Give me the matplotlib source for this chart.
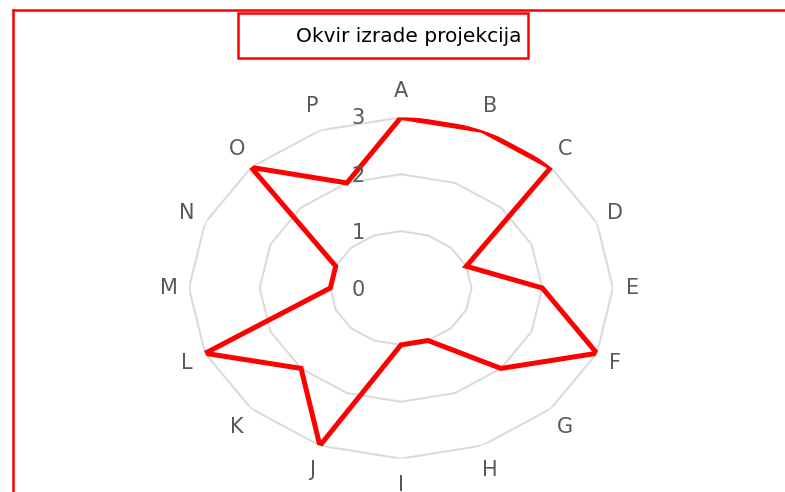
import matplotlib.pyplot as plt
import numpy as np
from matplotlib.patches import Rectangle
from matplotlib.lines import Line2D

# Дані
categories = ['A', 'B', 'C', 'D', 'E', 'F', 'G', 'H',
              'I', 'J', 'K', 'L', 'M', 'N', 'O', 'P']
values = [3, 3, 3, 1, 2, 3, 2, 1, 1, 3, 2, 3, 1, 1, 3, 2]
levels = [0, 1, 2, 3]
title = 'Okvir izrade projekcija'

W, H = 785, 492
fig = plt.figure(figsize=(W / 100, H / 100), dpi=100)
fig.patch.set_facecolor('white')

# Рамка (ліва та верхня червоні лінії)
fig.add_artist(Line2D([13 / W, 13 / W], [0, 1 - 10 / H], color='red', lw=1.8))
fig.add_artist(Line2D([13 / W, 1], [1 - 10 / H, 1 - 10 / H], color='red', lw=1.8))

# Полярна система, розтягнута по горизонталі
ax = fig.add_axes([189 / W, 33.4 / H, 424 / W, 341.2 / H], projection='polar')
ax.set_aspect('auto')
ax.set_theta_zero_location('N')
ax.set_theta_direction(-1)
ax.set_ylim(0, 3)
ax.grid(False)
ax.spines['polar'].set_visible(False)
ax.set_xticks([])
ax.set_yticks([])
ax.patch.set_alpha(0)

n = len(categories)
theta = np.arange(n) * 2 * np.pi / n
theta_closed = np.append(theta, theta[0])

# Сітка у вигляді багатокутників
for lv in levels[1:]:
    ax.plot(theta_closed, [lv] * (n + 1), color='#d9d9d9', lw=1.4, zorder=1)

# Серія даних
vals_closed = values + [values[0]]
ax.plot(theta_closed, vals_closed, color='red', lw=3.6, zorder=3,
        solid_joinstyle='miter')

# Підписи категорій
for t, c in zip(theta, categories):
    ax.annotate(c, xy=(t, levels[-1]), xytext=(20 * np.sin(t), 26 * np.cos(t)),
                textcoords='offset pixels', ha='center', va='center',
                fontsize=15, color='#595959', annotation_clip=False)

# Підписи рівнів
for lv in levels:
    ax.annotate(str(lv), xy=(0, lv), xytext=(-43, -1 if lv == 3 else -2),
                textcoords='offset pixels', ha='center', va='center',
                fontsize=15, color='#595959', annotation_clip=False)

# Заголовок у рамці
fig.add_artist(Rectangle((238 / W, 1 - 58 / H), 290 / W, 45 / H,
                         transform=fig.transFigure, fill=False,
                         edgecolor='red', lw=1.8))
fig.text(521 / W, 1 - 36 / H, title, ha='right', va='center',
         fontsize=14.5, color='black')

plt.savefig('out.png', dpi=100)
